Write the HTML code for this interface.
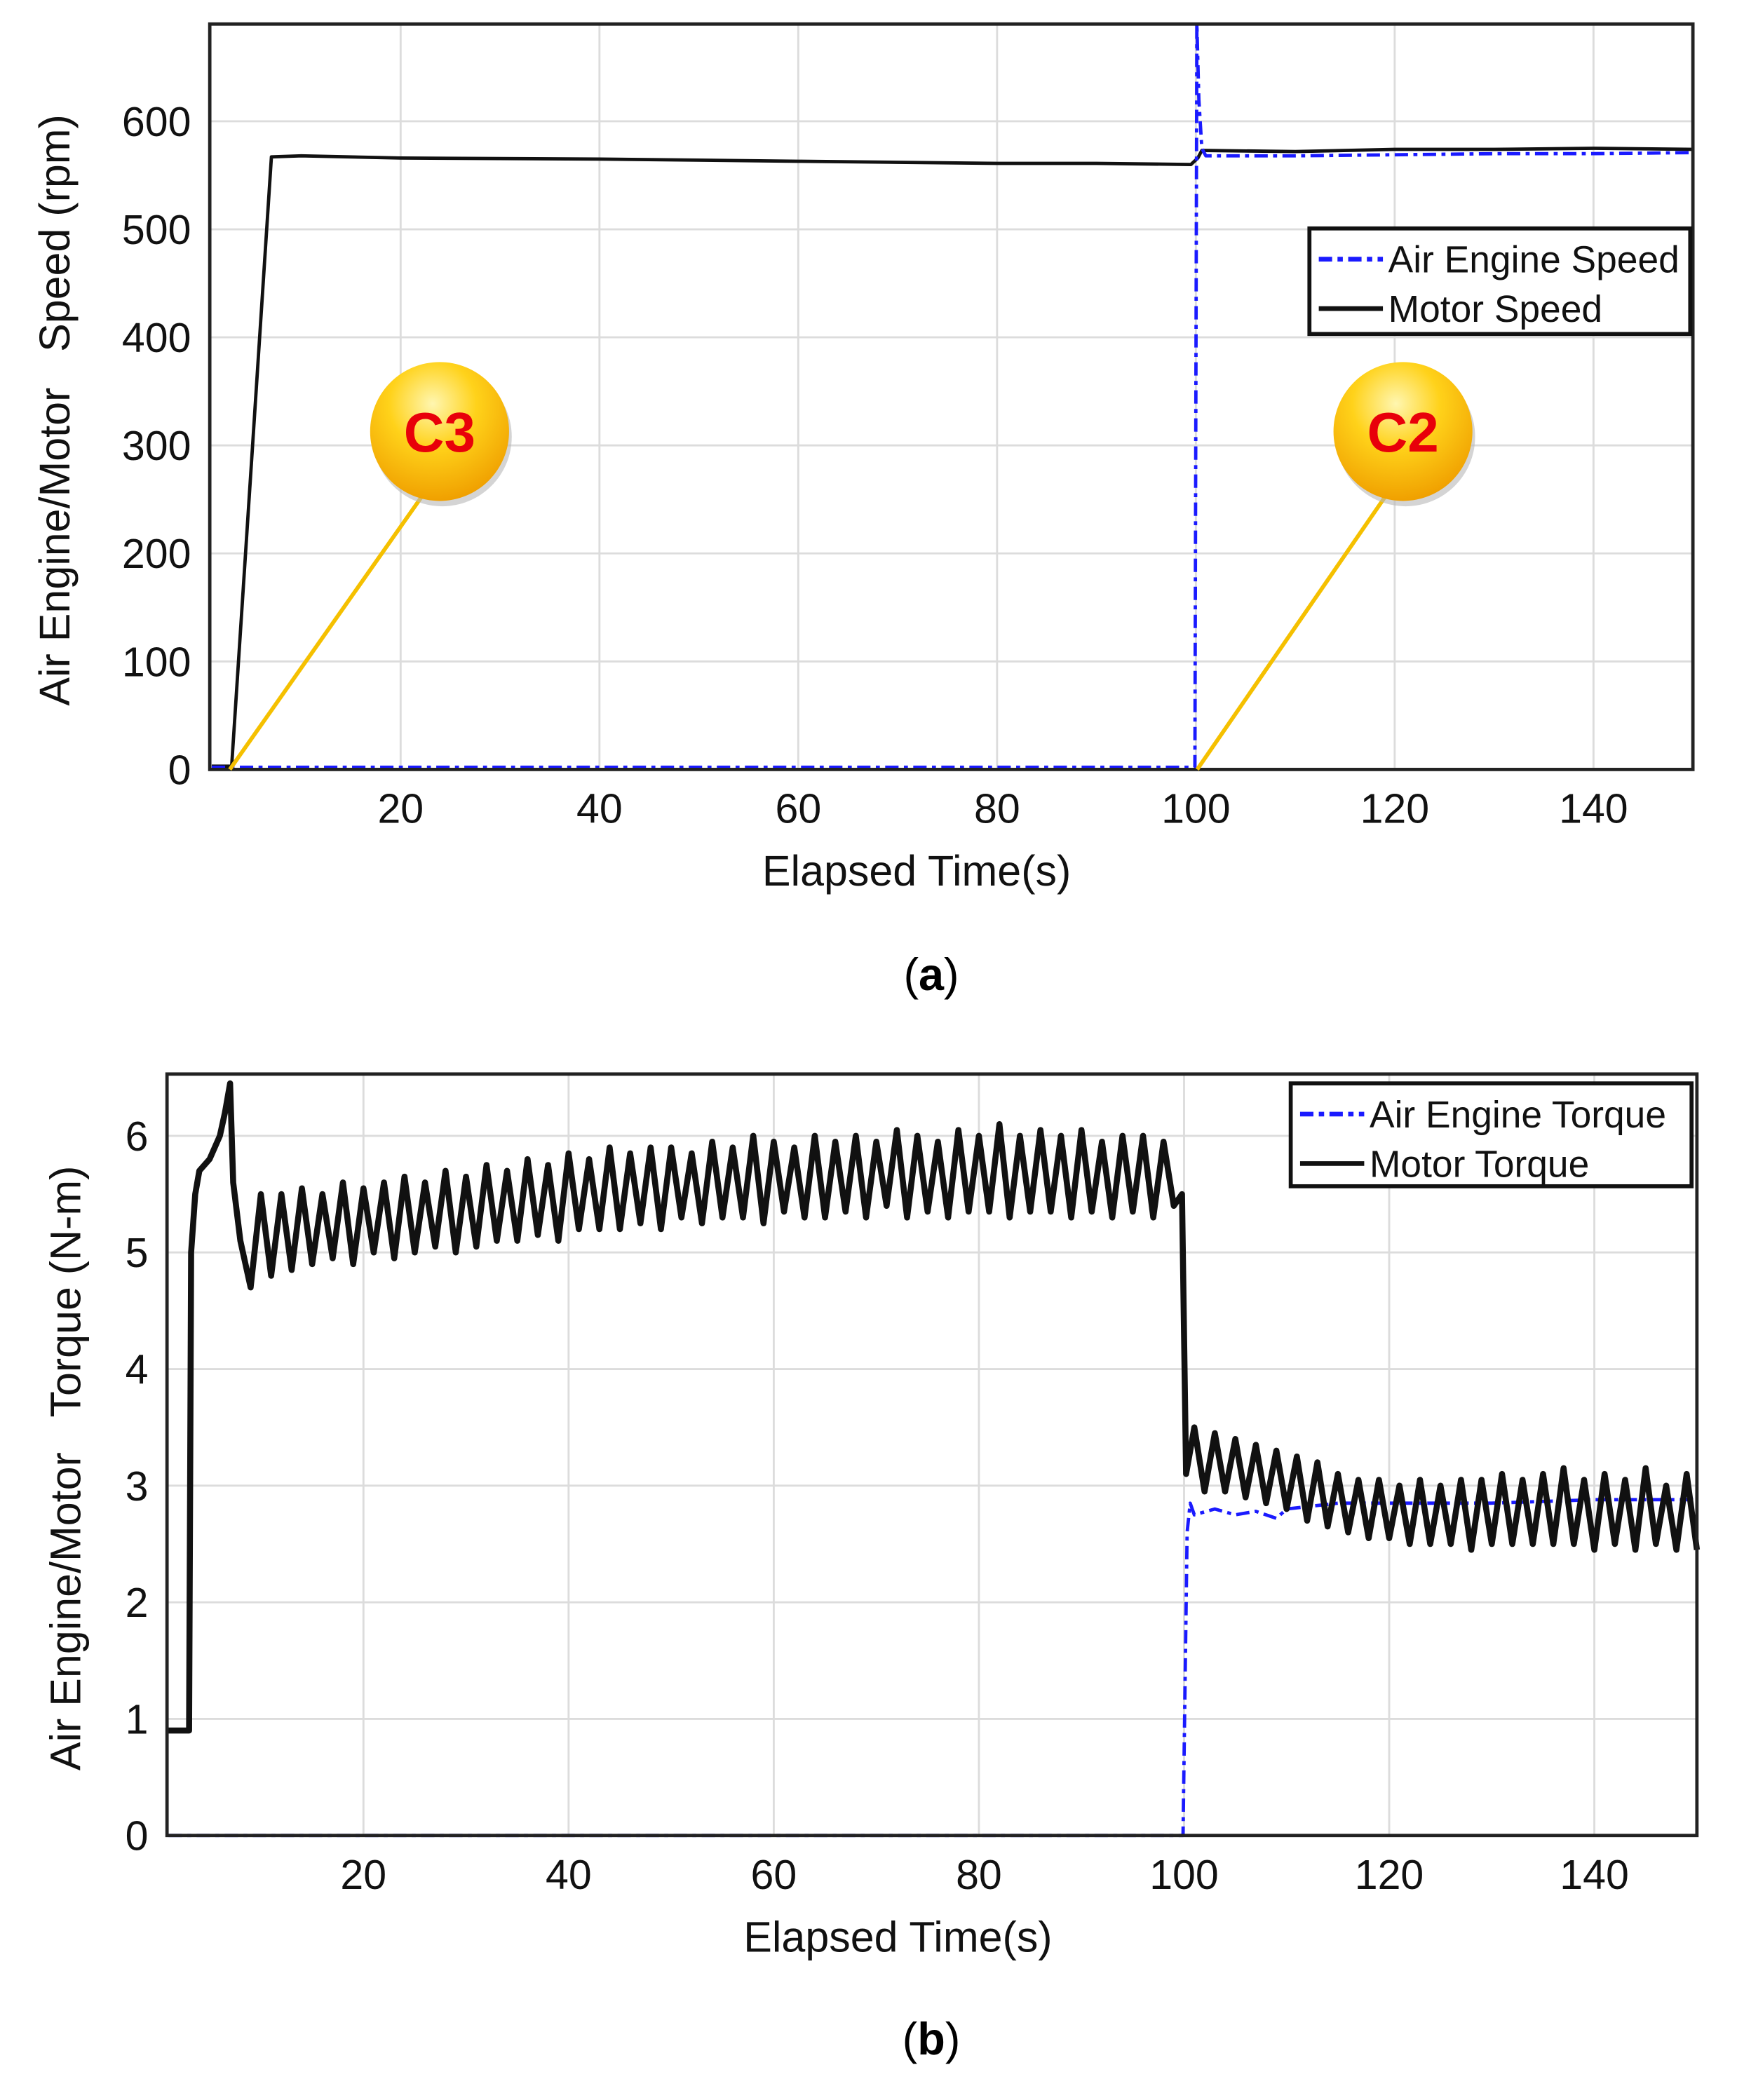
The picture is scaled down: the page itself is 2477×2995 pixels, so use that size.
<!DOCTYPE html>
<html><head><meta charset="utf-8">
<style>
html,body{margin:0;padding:0;background:#fff;}
svg{display:block;}
text{font-family:"Liberation Sans",Arial,sans-serif;white-space:pre;}
</style></head>
<body>
<svg id="fig" width="2477" height="2995" viewBox="0 0 1300 1572" preserveAspectRatio="none" xmlns="http://www.w3.org/2000/svg">
<g id="chartA"></g>
<g id="chartB"></g>
<text x="697" y="741" font-size="34" text-anchor="middle" font-family="Liberation Serif,serif">(<tspan font-weight="bold">a</tspan>)</text>
<text x="697" y="1538" font-size="34" text-anchor="middle" font-family="Liberation Serif,serif">(<tspan font-weight="bold">b</tspan>)</text>
</svg>
<script>
// ---- chart A data ----
const xTicks = [20,40,60,80,100,120,140];
const speedYTicks = [0,100,200,300,400,500,600];
const motorSpeedT = [1,3,7,10,20,40,60,70,80,90,99.5,100.2,100.6,110,120,130,140,150];
const motorSpeedV = [3,3,567,568,566,565,563,562,561,561,560,566,573,572,574,574,575,574];
const airSpeedT = [1,99.9,100.1,100.3,100.6,101,110,120,130,140,150];
const airSpeedV = [2,2,690,620,575,568,568,569,570,570,571];
// ---- chart B data ----
const torqueYTicks = [0,1,2,3,4,5,6];
const motorTorqueT = [1,3,3.2,3.6,4,5,6,6.5,7,7.3,8,9,10,11,12,13,14,15,16,17,18,19,20,21,22,23,24,25,26,27,28,29,30,31,32,33,34,35,36,37,38,39,40,41,42,43,44,45,46,47,48,49,50,51,52,53,54,55,56,57,58,59,60,61,62,63,64,65,66,67,68,69,70,71,72,73,74,75,76,77,78,79,80,81,82,83,84,85,86,87,88,89,90,91,92,93,94,95,96,97,98,99,99.8,100.2,101,102,103,104,105,106,107,108,109,110,111,112,113,114,115,116,117,118,119,120,121,122,123,124,125,126,127,128,129,130,131,132,133,134,135,136,137,138,139,140,141,142,143,144,145,146,147,148,149,150];
const motorTorqueV = [0.9,0.9,5.0,5.5,5.7,5.8,6.0,6.2,6.45,5.6,5.1,4.7,5.5,4.8,5.5,4.85,5.55,4.9,5.5,4.95,5.6,4.9,5.55,5.0,5.6,4.95,5.65,5.0,5.6,5.05,5.7,5.0,5.65,5.05,5.75,5.1,5.7,5.1,5.8,5.15,5.75,5.1,5.85,5.2,5.8,5.2,5.9,5.2,5.85,5.25,5.9,5.2,5.9,5.3,5.85,5.25,5.95,5.3,5.9,5.3,6.0,5.25,5.95,5.35,5.9,5.3,6.0,5.3,5.95,5.35,6.0,5.3,5.95,5.4,6.05,5.3,6.0,5.35,5.95,5.3,6.05,5.35,6.0,5.35,6.1,5.3,6.0,5.35,6.05,5.35,6.0,5.3,6.05,5.35,5.95,5.3,6.0,5.35,6.0,5.3,5.95,5.4,5.5,3.1,3.5,2.95,3.45,2.95,3.4,2.9,3.35,2.85,3.3,2.8,3.25,2.7,3.2,2.65,3.1,2.6,3.05,2.55,3.05,2.55,3.0,2.5,3.05,2.5,3.0,2.5,3.05,2.45,3.05,2.5,3.1,2.5,3.05,2.5,3.1,2.5,3.15,2.5,3.05,2.45,3.1,2.5,3.05,2.45,3.15,2.5,3.0,2.45,3.1,2.45,3.05,2.5,3.1,2.45,3.05];
const airTorqueT = [1,99.9,100.3,100.6,101,103,105,107,109,110,112,115,120,130,140,150];
const airTorqueV = [0,0,2.6,2.85,2.75,2.8,2.75,2.78,2.72,2.8,2.82,2.85,2.85,2.85,2.88,2.88];

const NS="http://www.w3.org/2000/svg";
function mk(parent,tag,attrs){const e=document.createElementNS(NS,tag);for(const k in attrs)e.setAttribute(k,attrs[k]);parent.appendChild(e);return e;}

function drawChart(g,cfg){
  const {L,R,T,B,xmin,xmax,ymin,ymax,yTicks,ylabel}=cfg;
  const sx=v=>L+(v-xmin)/(xmax-xmin)*(R-L);
  const sy=v=>B-(v-ymin)/(ymax-ymin)*(B-T);
  xTicks.forEach(t=>{
    const l=mk(g,'line',{x1:sx(t),x2:sx(t),y1:T,y2:B,stroke:'#dcdcdc','stroke-width':1.5});
    
    
    const tx=mk(g,'text',{x:sx(t),y:B+40,'font-size':31,'text-anchor':'middle',fill:'#111'});
    tx.textContent=t;
    
    
  });
  yTicks.forEach(t=>{
    if(t>0){const l=mk(g,'line',{x1:L,x2:R,y1:sy(t),y2:sy(t),stroke:'#dcdcdc','stroke-width':1.5});
    
    }
    const tx=mk(g,'text',{x:L-14,y:sy(t)+11,'font-size':31,'text-anchor':'end',fill:'#111'});
    tx.textContent=t;
    
    
  });
  const xt=mk(g,'text',{x:cfg.xlabX,y:B+87,'font-size':32,'text-anchor':'middle',fill:'#111'});
  xt.textContent='Elapsed Time(s)';
  
  
  const yt=mk(g,'text',{x:0,y:0,'font-size':32,'text-anchor':'middle',fill:'#111',transform:`translate(${cfg.ylabX},${(T+B)/2+10}) rotate(-90)`});
  yt.textContent=ylabel;
  
  
  return {sx,sy};
}
function series(g,ax,T,V,attrs,name){
  const d=T.map((t,i)=>(i?'L':'M')+ax.sx(t).toFixed(2)+','+ax.sy(V[i]).toFixed(2)).join('');
  const p=mk(g,'path',Object.assign({d:d,fill:'none','stroke-linejoin':'round'},attrs));
  
  
}
function frame(g,c){const r=mk(g,'rect',{x:c.L,y:c.T,width:c.R-c.L,height:c.B-c.T,fill:'none',stroke:'#222','stroke-width':2.5});
  
  }
function legend(g,x,y,w,h,items){
  const lg=mk(g,'g',{});
  
  
  mk(lg,'rect',{x:x,y:y,width:w,height:h,fill:'#fff',stroke:'#111','stroke-width':3});
  items.forEach((it,i)=>{
    const yy=y+23+i*37;
    const e=mk(lg,'g',{});
    
    
    mk(e,'line',Object.assign({x1:x+7,x2:x+55,y1:yy,y2:yy,'stroke-width':3.5},it.attrs));
    const t=mk(e,'text',{x:x+59,y:yy+10,'font-size':28,fill:'#111'});t.textContent=it.label;
  });
}
function badge(g,cx,cy,lx,ly,label){
  const b=mk(g,'g',{});
  
  
  mk(b,'line',{x1:cx-10,x2:lx,y1:cy+44,y2:ly,stroke:'#f5c000','stroke-width':3});
  mk(b,'circle',{cx:cx+2,cy:cy+4,r:52,fill:'#b8b8b8',opacity:0.6});
  mk(b,'circle',{cx:cx,cy:cy,r:52,fill:'url(#gold)'});
  const t=mk(b,'text',{x:cx,y:cy+15,'font-size':42,'font-weight':'bold','text-anchor':'middle',fill:'#e8000a'});t.textContent=label;
}
const svg=document.getElementById('fig');
const defs=mk(svg,'defs',{});
const rg=mk(defs,'radialGradient',{id:'gold',cx:'45%',cy:'30%',r:'70%'});
mk(rg,'stop',{offset:'0%','stop-color':'#fff6b0'});
mk(rg,'stop',{offset:'45%','stop-color':'#ffd21a'});
mk(rg,'stop',{offset:'100%','stop-color':'#f0a000'});

// Chart A
const gA=document.getElementById('chartA');
const cA={L:157,R:1267,T:18,B:576,xmin:0.8,xmax:150,ymin:0,ymax:690,yTicks:speedYTicks,ylabel:'Air Engine/Motor   Speed (rpm)',xlabX:686,ylabX:52};
const axA=drawChart(gA,cA);
series(gA,axA,motorSpeedT,motorSpeedV,{stroke:'#111','stroke-width':2.5},'motor-speed-line');
series(gA,axA,airSpeedT,airSpeedV,{stroke:'#1a1aff','stroke-width':2.5,'stroke-dasharray':'10,4,3,4'},'air-engine-speed-line');
frame(gA,cA);
legend(gA,980,171,285,79,[{label:'Air Engine Speed',attrs:{stroke:'#1a1aff','stroke-dasharray':'10,4,4,4'}},{label:'Motor Speed',attrs:{stroke:'#111'}}]);
badge(gA,329,323,172,576,'C3');
badge(gA,1050,323,896,576,'C2');

// Chart B
const gB=document.getElementById('chartB');
const cB={L:125,R:1270,T:804,B:1374,xmin:0.85,xmax:150,ymin:0,ymax:6.53,yTicks:torqueYTicks,ylabel:'Air Engine/Motor   Torque (N-m)',xlabX:672,ylabX:60};
const axB=drawChart(gB,cB);
series(gB,axB,airTorqueT,airTorqueV,{stroke:'#1a1aff','stroke-width':2.5,'stroke-dasharray':'10,4,3,4'},'air-engine-torque-line');
series(gB,axB,motorTorqueT,motorTorqueV,{stroke:'#111','stroke-width':4.5},'motor-torque-line');
frame(gB,cB);
legend(gB,966,811,300,77,[{label:'Air Engine Torque',attrs:{stroke:'#1a1aff','stroke-dasharray':'10,4,4,4'}},{label:'Motor Torque',attrs:{stroke:'#111'}}]);
</script>
</body></html>
